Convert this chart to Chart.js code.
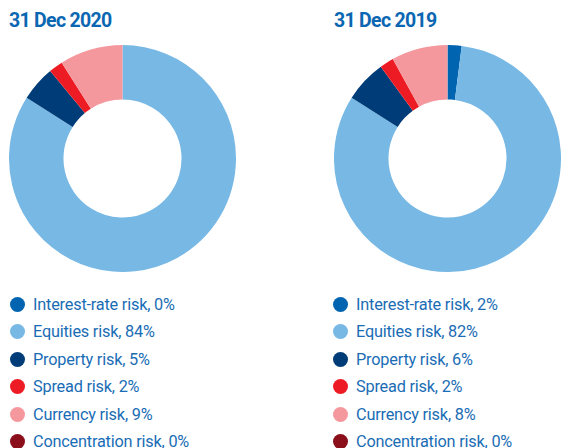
<!DOCTYPE html>
<html>
<head>
<meta charset="utf-8">
<script src="https://cdn.jsdelivr.net/npm/chart.js@4"></script>
<style>
  html, body { margin: 0; padding: 0; background: #fff; overflow: hidden; }
  body { width: 561px; height: 448px; position: relative; font-family: Roboto, sans-serif; }
  .title { position: absolute; top: 9px; font-weight: 700; font-size: 19.5px; color: #0b67b2;
           letter-spacing: -0.7px; white-space: nowrap; }
  .chart { position: absolute; top: 45px; width: 227px; height: 227px; }
  .legend { position: absolute; top: 291px; margin: 0; padding: 0; list-style: none; }
  .legend li { height: 27.4px; line-height: 27.4px; font-size: 16.3px; color: #1a6db5; white-space: nowrap; position: relative; padding-left: 23px; letter-spacing: -0.2px; }
  .legend li span { position: absolute; left: 0; top: 6px; width: 15px; height: 15px; border-radius: 50%; }
</style>
</head>
<body>
<div class="title" style="left:9px">31 Dec 2020</div>
<div class="title" style="left:334px">31 Dec 2019</div>
<div class="chart" style="left:9px"><canvas id="c2020"></canvas></div>
<div class="chart" style="left:334px"><canvas id="c2019"></canvas></div>
<ul class="legend" id="l2020" style="left:10px"></ul>
<ul class="legend" id="l2019" style="left:333px"></ul>
<script>
const categories = ['Interest-rate risk', 'Equities risk', 'Property risk', 'Spread risk', 'Currency risk', 'Concentration risk'];
const values2020 = [0, 84, 5, 2, 9, 0];
const values2019 = [2, 82, 6, 2, 8, 0];
const colors = ['#0064b1', '#78b8e5', '#003d78', '#ed1c24', '#f5989d', '#8a0f1b'];

// un graphique en anneau par année
function makeDoughnut(id, data) {
    return new Chart(document.getElementById(id), {
        type: 'doughnut',
        data: {
            labels: categories,
            datasets: [{
                data: data,
                backgroundColor: colors,
                borderWidth: 0
            }]
        },
        options: {
            responsive: true,
            maintainAspectRatio: false,
            animation: false,
            cutout: '52%',
            layout: { padding: 0 },
            plugins: {
                legend: { display: false },
                tooltip: { enabled: false }
            }
        }
    });
}

// légende HTML construite à partir des mêmes tableaux
function makeLegend(id, data) {
    const ul = document.getElementById(id);
    categories.forEach((name, i) => {
        const li = document.createElement('li');
        const dot = document.createElement('span');
        dot.style.background = colors[i];
        li.appendChild(dot);
        li.appendChild(document.createTextNode(name + ', ' + data[i] + '%'));
        ul.appendChild(li);
    });
}

makeDoughnut('c2020', values2020);
makeDoughnut('c2019', values2019);
makeLegend('l2020', values2020);
makeLegend('l2019', values2019);
</script>
</body>
</html>
